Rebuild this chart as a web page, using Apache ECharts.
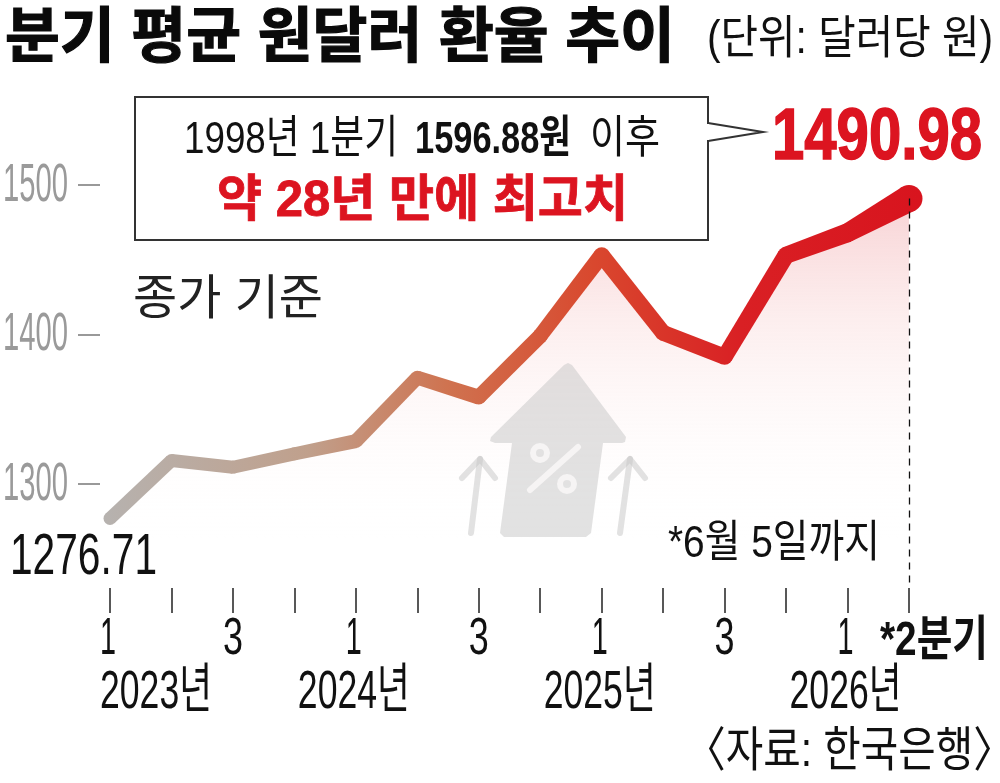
<!DOCTYPE html>
<html><head><meta charset="utf-8">
<style>html,body{margin:0;padding:0;background:#fff}#c{width:1000px;height:783px}</style>
<script src="https://cdn.jsdelivr.net/npm/echarts@6/dist/echarts.min.js"></script>
</head><body><div id="c"></div>
<script>
const categories = ['2023Q1','2023Q2','2023Q3','2023Q4','2024Q1','2024Q2','2024Q3','2024Q4','2025Q1','2025Q2','2025Q3','2025Q4','2026Q1','2026Q2'];
const rates = [1276.71,1315.5,1311,1320,1328.5,1371,1358,1399,1453,1401,1385,1453,1468,1490.98];
const yTicks = [1300,1400,1500];
const quarterIdx = [0,2,4,6,8,10,12];
const quarterTxt = ['1','3','1','3','1','3','1'];
const yearIdx = [0,4,8,12];
const yearTxt = ['2023년','2024년','2025년','2026년'];
const ribbonWidths = [13,13,13,13,14,14,15,15,16,16,16,17,19,27];

const KR='"Liberation Sans","Noto Sans CJK KR",sans-serif';
const ctx=document.createElement('canvas').getContext('2d');
function fontOf(size,bold){return (bold?'bold ':'')+size+'px '+KR;}
function sx(t,size,bold,w){ctx.font=fontOf(size,bold);return w/ctx.measureText(t).width;}
function label(t,x,base,size,w,fill,bold,heavy){
  const st={text:t,x:0,y:0,font:fontOf(size,bold),fill:fill||'#111',textAlign:'left',textBaseline:'middle'};
  if(heavy){st.stroke=fill;st.lineWidth=heavy;}
  return {type:'text',x:x,y:base-0.83*size,scaleX:sx(t,size,bold,w),z:20,silent:true,style:st};
}
const iconFill='rgba(198,198,198,0.5)';
const chart=echarts.init(document.getElementById('c'),null,{renderer:'canvas'});
const YMIN=1200,YMAX=1500;
const ribbonFill=new echarts.graphic.LinearGradient(104,0,920,0,[
  {offset:0,color:'#b6b2af'},{offset:.25,color:'#c0a08c'},{offset:.42,color:'#cf7350'},
  {offset:.6,color:'#d9482e'},{offset:.78,color:'#d92024'},{offset:1,color:'#d8141e'}],true);
chart.setOption({
  animation:false,
  grid:{left:110,right:91,top:185,bottom:150},
  xAxis:{type:'category',data:categories,boundaryGap:false,position:'bottom',offset:-45,
    axisLine:{show:false},axisLabel:{show:false},
    axisTick:{show:true,alignWithLabel:true,length:25,lineStyle:{color:'#222',width:1.5}},splitLine:{show:false}},
  yAxis:{type:'value',min:YMIN,max:YMAX,interval:100,offset:10,
    axisLine:{show:false},axisLabel:{show:false},splitLine:{show:false},
    axisTick:{show:true,length:22,customValues:yTicks,lineStyle:{color:'#999',width:2}}},
  series:[
   {type:'line',data:rates,symbol:'none',smooth:false,z:2,
    lineStyle:{width:0},
    areaStyle:{origin:'start',color:new echarts.graphic.LinearGradient(0,200,0,540,[
        {offset:0,color:'rgba(238,150,155,0.6)'},{offset:.35,color:'rgba(245,185,185,0.35)'},
        {offset:1,color:'rgba(255,255,255,0)'}],true)},
    markLine:{silent:true,symbol:'none',label:{show:false},
      lineStyle:{color:'#111',type:[7,6],width:1.3},
      data:[[{xAxis:categories[13],yAxis:rates[13]},{xAxis:categories[13],yAxis:1230}]]}},
   {type:'custom',coordinateSystem:'cartesian2d',silent:true,z:4,data:rates.map((v,i)=>[i,v]),
    renderItem:(p,api)=>{
      const i=api.value(0);
      const a=api.coord([i,api.value(1)]);const ra=ribbonWidths[i]/2;
      const kids=[{type:'circle',shape:{cx:a[0],cy:a[1],r:ra},style:{fill:ribbonFill}}];
      if(i<rates.length-1){
        const b=api.coord([i+1,rates[i+1]]);const rb=ribbonWidths[i+1]/2;
        const dx=b[0]-a[0],dy=b[1]-a[1],L=Math.hypot(dx,dy),nx=-dy/L,ny=dx/L;
        kids.push({type:'polygon',shape:{points:[[a[0]+nx*ra,a[1]+ny*ra],[b[0]+nx*rb,b[1]+ny*rb],[b[0]-nx*rb,b[1]-ny*rb],[a[0]-nx*ra,a[1]-ny*ra]]},style:{fill:ribbonFill}});
      }
      return {type:'group',children:kids};
    }},
   {type:'custom',coordinateSystem:'cartesian2d',silent:true,z:10,data:yTicks.map(v=>[0,v]),
    renderItem:(p,api)=>{const y=api.coord([0,api.value(1)])[1];const t=String(api.value(1));
      return label(t,3,y+19,54,65,'#9a9a9a',false);}},
   {type:'custom',coordinateSystem:'cartesian2d',silent:true,z:10,data:quarterIdx.map((q,i)=>[q,YMIN,i]),
    renderItem:(p,api)=>{const x=api.coord([api.value(0),YMIN])[0];const t=quarterTxt[api.value(2)];
      return label(t,x-10,657,52,t==='1'?16:20,'#111',false);}},
   {type:'custom',coordinateSystem:'cartesian2d',silent:true,z:10,data:yearIdx.map((q,i)=>[q,YMIN,i]),
    renderItem:(p,api)=>{const x=api.coord([api.value(0),YMIN])[0];const t=yearTxt[api.value(2)];
      return label(t,api.value(0)===0?x-10:x-58,711,54,112,'#111',false);}}
  ],
  graphic:[
    {type:'rect',z:18,shape:{x:135,y:97,width:573,height:143},style:{fill:'#fff',stroke:'#333',lineWidth:2}},
    {type:'polyline',z:19,shape:{points:[[708,123],[763,132],[708,141]]},style:{fill:'#fff',stroke:'#333',lineWidth:2}},
    {type:'rect',z:19,shape:{x:706,y:124,width:3,height:16},style:{fill:'#fff'}},
    label('분기 평균 원달러 환율 추이',5,60,60,670,'#0a0a0a',true,1.2),
    label('(단위: 달러당 원)',707,55,46,286,'#111',false),
    label('1998년 1분기',184,155,45,214,'#111',false),
    label('1596.88원',415,155,45,156,'#111',true),
    label('이후',590,155,45,70,'#111',false),
    label('약 28년 만에 최고치',217,219,50,411,'#dc1420',true,.8),
    label('1490.98',772,163,72,210,'#dc1420',true,1.5),
    label('종가 기준',133,317,48,190,'#222',false),
    label('1276.71',10,577,58,147,'#111',false),
    label('*6월 5일까지',668,559,44,212,'#111',false),
    label('*2분기',880,658,48,108,'#111',true),
    label('〈자료: 한국은행〉',685,769,48,329,'#111',false),
    {type:'polygon',z:5,silent:true,shape:{points:[[564,365],[568,363],[572,365],[626,437],[625,442],[622,443],[603,443],[591,533],[586,537],[504,537],[500,533],[512,443],[495,443],[490,441],[491,437]]},style:{fill:iconFill}},
    {type:'polyline',z:5,silent:true,shape:{points:[[471,533],[480,459]]},style:{stroke:iconFill,lineWidth:6,lineCap:'round',fill:'none'}},
    {type:'polyline',z:5,silent:true,shape:{points:[[462,478],[480,459],[495,478]]},style:{stroke:iconFill,lineWidth:6,lineCap:'round',lineJoin:'round',fill:'none'}},
    {type:'polyline',z:5,silent:true,shape:{points:[[620,533],[630,459]]},style:{stroke:iconFill,lineWidth:6,lineCap:'round',fill:'none'}},
    {type:'polyline',z:5,silent:true,shape:{points:[[611,478],[630,459],[645,478]]},style:{stroke:iconFill,lineWidth:6,lineCap:'round',lineJoin:'round',fill:'none'}},
    {type:'circle',z:6,silent:true,shape:{cx:540,cy:453,r:7},style:{fill:'none',stroke:'#f6f4f4',lineWidth:6}},
    {type:'circle',z:6,silent:true,shape:{cx:567,cy:484,r:7},style:{fill:'none',stroke:'#f6f4f4',lineWidth:6}},
    {type:'line',z:6,silent:true,shape:{x1:578,y1:447,x2:530,y2:490},style:{stroke:'#f6f4f4',lineWidth:6,lineCap:'round'}}
  ]
});
</script></body></html>
